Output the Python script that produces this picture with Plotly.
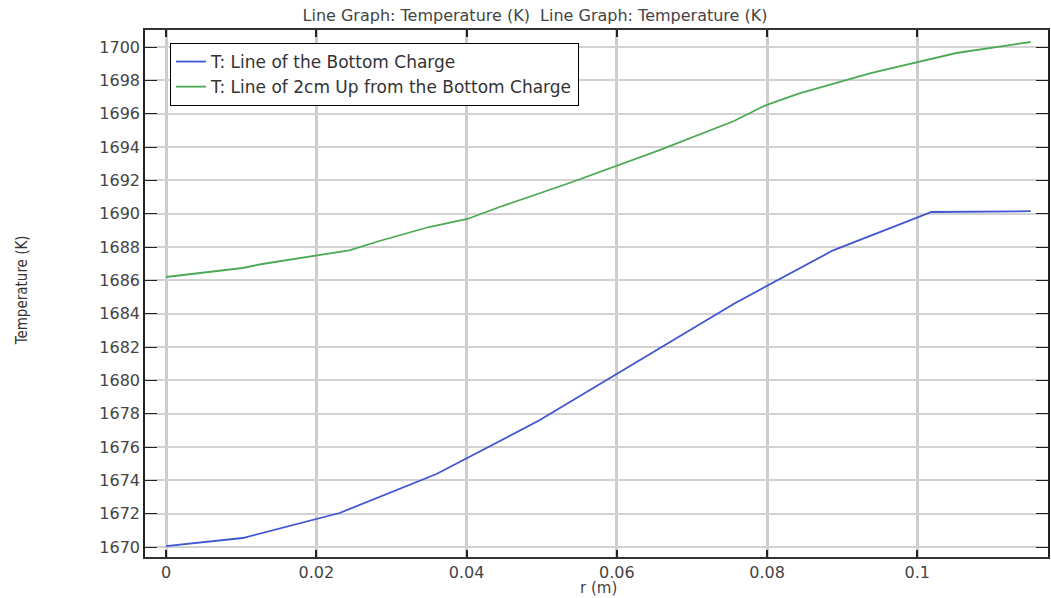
import plotly.graph_objects as go

# Data
r_bottom = [0.0, 0.0102, 0.0231, 0.036, 0.0497, 0.06, 0.0756, 0.0888, 0.1019, 0.1151]
T_bottom = [1670.05, 1670.54, 1672.04, 1674.38, 1677.6, 1680.4, 1684.6, 1687.8, 1690.1, 1690.15]

r_up = [0.0, 0.0102, 0.0128, 0.0244, 0.0284, 0.035, 0.0401, 0.0444, 0.0537, 0.0598,
        0.0656, 0.0756, 0.0798, 0.0842, 0.0938, 0.1052, 0.1151]
T_up = [1686.2, 1686.74, 1686.98, 1687.8, 1688.36, 1689.2, 1689.68, 1690.4, 1691.84, 1692.86,
        1693.8, 1695.56, 1696.5, 1697.2, 1698.43, 1699.64, 1700.3]

name_bottom = "T: Line of the Bottom Charge"
name_up = "T: Line of 2cm Up from the Bottom Charge"
title_text = "Line Graph: Temperature (K)  Line Graph: Temperature (K)"
x_title = "r (m)"
y_title = "Temperature (K)"

x_tickvals = [0, 0.02, 0.04, 0.06, 0.08, 0.1]
x_ticktext = ["0", "0.02", "0.04", "0.06", "0.08", "0.1"]
y_tickvals = list(range(1670, 1701, 2))

fig = go.Figure()
fig.add_trace(go.Scatter(x=r_bottom, y=T_bottom, mode="lines", name=name_bottom,
                         line=dict(color="#3f55d2", width=1.8)))
fig.add_trace(go.Scatter(x=r_up, y=T_up, mode="lines", name=name_up,
                         line=dict(color="#4caa55", width=1.8)))

font_main = "DejaVu Sans, Verdana, sans-serif"

fig.update_layout(
    width=1051, height=598,
    margin=dict(l=145, r=1, t=30, b=41),
    paper_bgcolor="white", plot_bgcolor="white",
    font=dict(family=font_main, size=15, color="#444"),
    title=dict(text=title_text, x=535/1051, xref="container", xanchor="center",
               y=1-15/598, yref="container", yanchor="middle",
               font=dict(family=font_main, size=16, color="#444")),
    showlegend=True,
    legend=dict(x=25/905, y=(557-43)/527, xanchor="left", yanchor="top",
                bgcolor="white", bordercolor="black", borderwidth=1,
                font=dict(family=font_main, size=17, color="#333"),
                tracegroupgap=0),
    xaxis=dict(range=[-0.0028, 0.1174], tickvals=x_tickvals, ticktext=x_ticktext,
               showgrid=True, gridcolor="#cdcdcd", gridwidth=3,
               zeroline=False, showline=True, linecolor="#333", linewidth=1.5,
               mirror="ticks", ticks="inside", ticklen=7, tickcolor="#222", tickwidth=1.5,
               tickfont=dict(family=font_main, size=16, color="#444")),
    yaxis=dict(range=[1669.4, 1701.02], tickvals=y_tickvals,
               showgrid=True, gridcolor="#d2d2d2", gridwidth=2,
               zeroline=False, showline=True, linecolor="#222", linewidth=1.5,
               mirror="ticks", ticks="inside", ticklen=12, tickcolor="#222", tickwidth=1.2,
               tickfont=dict(family=font_main, size=16, color="#444")),
    annotations=[
        dict(text=x_title, xref="paper", yref="paper", x=(600-145)/905, y=(557-588)/527,
             xanchor="center", yanchor="middle", showarrow=False,
             font=dict(family=font_main, size=15, color="#444")),
        dict(text=y_title, xref="paper", yref="paper", x=(22-145)/905, y=(557-290)/527,
             xanchor="center", yanchor="middle", showarrow=False, textangle=-90,
             font=dict(family="Liberation Sans Narrow, DejaVu Sans Condensed, Liberation Sans", size=15, color="#333")),
    ],
)

fig.write_html("out.html")
